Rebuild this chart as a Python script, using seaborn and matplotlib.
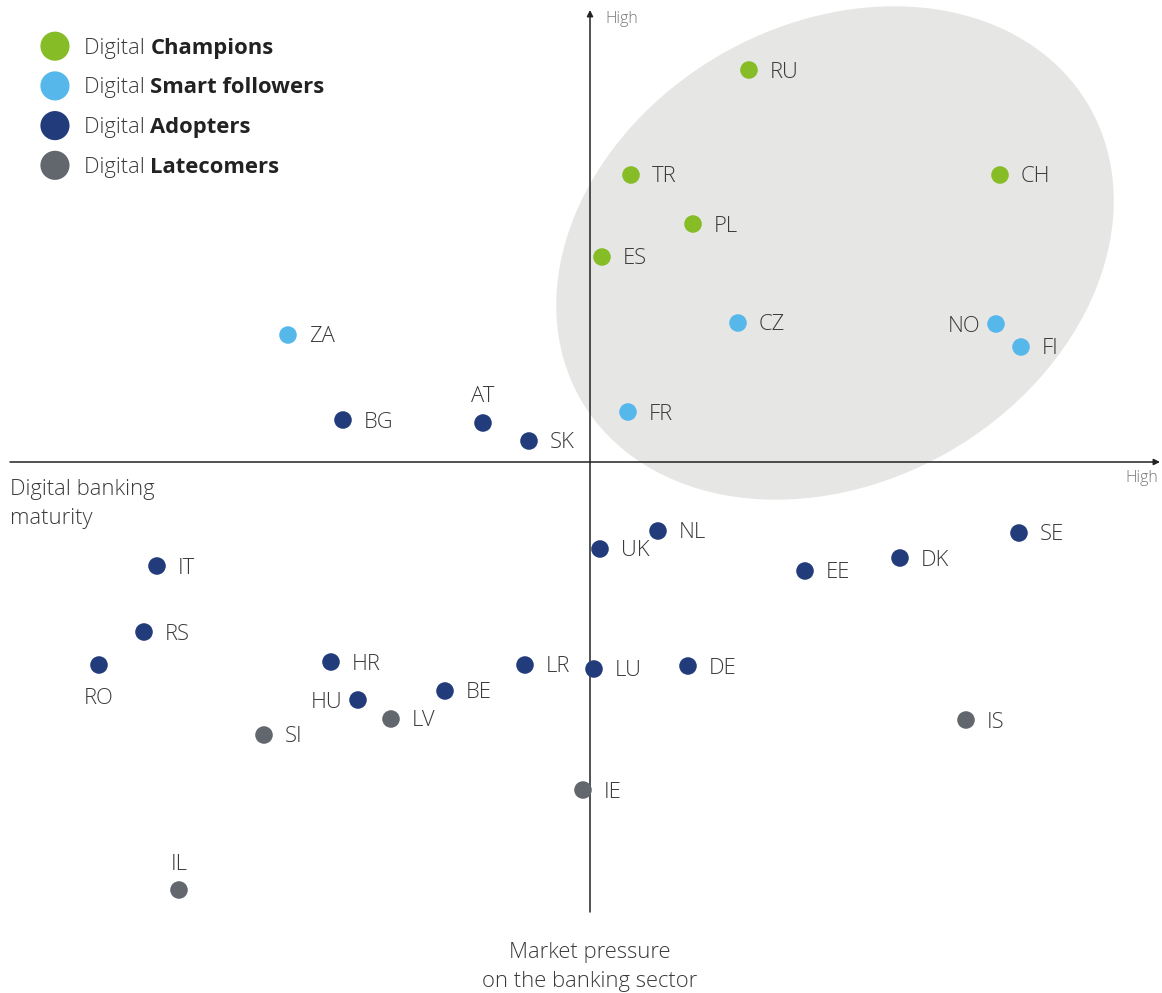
"""Digital banking maturity vs market pressure, country scatter with cluster ellipse."""

import matplotlib.pyplot as plt
import pandas as pd
import seaborn as sns
from matplotlib.patches import Ellipse

# Country positions relative to the axis crossing (arbitrary units)
COUNTRIES = ["RU", "TR", "CH", "PL", "ES",
             "CZ", "NO", "FI", "ZA", "FR",
             "BG", "AT", "SK", "NL", "SE", "UK", "DK", "IT", "EE", "RS", "RO",
             "HR", "LR", "LU", "DE", "BE", "HU",
             "LV", "IS", "SI", "IE", "IL"]
PRESSURE = [159, 41, 410, 103, 12,
            148, 406, 431, -302, 38,
            -247, -107, -61, 68, 429, 10, 310, -433, 215, -446, -491,
            -259, -65, 4, 98, -145, -232,
            -199, 376, -326, -7, -411]
MATURITY = [392, 287, 287, 238, 205,
            139, 138, 115, 127, 50,
            42, 39, 21, -69, -71, -87, -96, -104, -109, -170, -203,
            -200, -203, -207, -204, -229, -238,
            -257, -258, -273, -328, -428]
GROUPS = (["Champions"] * 5 + ["Smart followers"] * 5
          + ["Adopters"] * 17 + ["Latecomers"] * 5)

GROUP_ORDER = ["Champions", "Smart followers", "Adopters", "Latecomers"]
PALETTE = {
    "Champions": "#86BC25",
    "Smart followers": "#56B8EA",
    "Adopters": "#223B7B",
    "Latecomers": "#62666D",
}

# labels that don't sit to the right of their dot
LABEL_POS = {"AT": "above", "IL": "above", "RO": "below", "NO": "left", "HU": "left"}

FONT = "Open Sans"
TEXT_COLOR = "#3a3a3a"
FS = 15.8


def main():
    sns.set_style("white")
    plt.rcParams["font.family"] = [FONT, "DejaVu Sans"]

    df = pd.DataFrame({"country": COUNTRIES, "x": PRESSURE, "y": MATURITY, "group": GROUPS})

    fig = plt.figure(figsize=(11.62, 9.93), dpi=100)
    ax = fig.add_axes([0, 0, 1, 1])
    ax.set_xlim(-590, 572)
    ax.set_ylim(-531, 462)
    ax.axis("off")

    # shaded cluster of leaders
    ax.add_patch(Ellipse((245, 209), 587, 458, angle=30, facecolor="#E6E6E5",
                         edgecolor="none", zorder=0))

    # axes with arrow heads
    arrow = dict(arrowstyle="-|>", color="#222222", lw=1.1, mutation_scale=9,
                 shrinkA=0, shrinkB=0)
    ax.annotate("", xy=(570, 0), xytext=(-580, 0), arrowprops=arrow, zorder=1)
    ax.annotate("", xy=(0, 452), xytext=(0, -450), arrowprops=arrow, zorder=1)

    sns.scatterplot(data=df, x="x", y="y", hue="group", hue_order=GROUP_ORDER,
                    palette=PALETTE, s=160, edgecolor="none", legend=False,
                    ax=ax, zorder=3)

    for name, x, y in zip(COUNTRIES, PRESSURE, MATURITY):
        pos = LABEL_POS.get(name, "right")
        if pos == "right":
            off, ha = (21, -2), "left"
        elif pos == "left":
            off, ha = (-16, -2), "right"
        elif pos == "above":
            off, ha = (0, 26), "center"
        else:
            off, ha = (0, -33), "center"
        ax.annotate(name, (x, y), xytext=off, textcoords="offset pixels",
                    ha=ha, va="center", fontsize=FS, fontweight="light",
                    color=TEXT_COLOR, zorder=4)

    # axis titles
    ax.text(-580, -42, "Digital banking\nmaturity", ha="left", va="center",
            fontsize=FS, fontweight="light", color=TEXT_COLOR, linespacing=1.45)
    ax.text(0, -505, "Market pressure\non the banking sector", ha="center",
            va="center", fontsize=FS, fontweight="light", color=TEXT_COLOR,
            linespacing=1.45)
    ax.text(15, 443, "High", ha="left", va="center", fontsize=11.5,
            fontweight="light", color="#777777")
    ax.text(552, -16, "High", ha="center", va="center", fontsize=11.5,
            fontweight="light", color="#777777")

    # legend: big dots, light "Digital" + bold group name
    for i, grp in enumerate(GROUP_ORDER):
        ly = 0.9535 - i * 0.0400
        ax.scatter([0.0473], [ly], s=440, color=PALETTE[grp], edgecolor="none",
                   transform=ax.transAxes, zorder=5)
        t = ax.text(0.072, ly - 0.002, "Digital ", ha="left", va="center",
                    fontsize=FS, fontweight="light", color=TEXT_COLOR,
                    transform=ax.transAxes)
        ax.annotate(grp, xy=(1, 0.5), xycoords=t, ha="left", va="center",
                    fontsize=FS, fontweight="bold", color="#222222")

    fig.savefig("out.png", dpi=100, facecolor="white")
    plt.close(fig)


if __name__ == "__main__":
    main()
